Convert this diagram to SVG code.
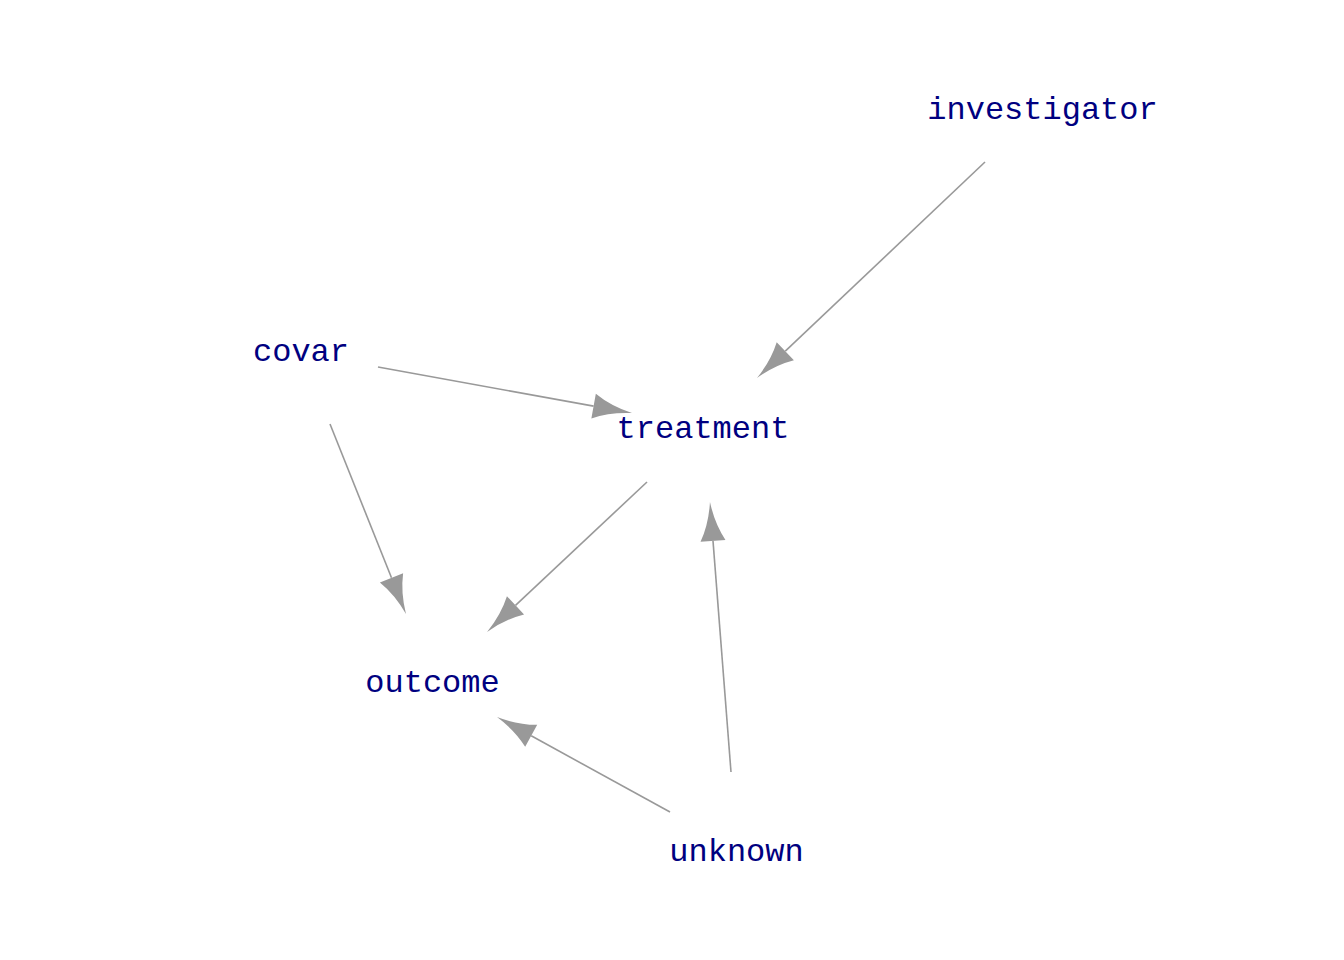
<svg xmlns="http://www.w3.org/2000/svg" width="1344" height="960" viewBox="0 0 1344 960">
<style>
.lbl{font-family:"Liberation Mono","Courier New",monospace;font-size:32px;fill:#000080;text-anchor:middle}
.edge{stroke:#999999;stroke-width:1.6;fill:none}
</style>
<defs>
<marker id="ah" markerUnits="userSpaceOnUse" orient="auto" refX="0" refY="0" markerWidth="40" markerHeight="26" overflow="visible">
<path d="M0,-12.5 Q17,-3 39,0 Q17,3 0,12.5 Z" fill="#999999"/>
</marker>
</defs>
<rect width="1344" height="960" fill="#ffffff"/>
<g id="edges">
<line class="edge" x1="985" y1="162" x2="785.3" y2="351.2" marker-end="url(#ah)"/>
<line class="edge" x1="378" y1="367" x2="593.6" y2="406.1" marker-end="url(#ah)"/>
<line class="edge" x1="330" y1="424" x2="391.5" y2="577.8" marker-end="url(#ah)"/>
<line class="edge" x1="647" y1="482" x2="515.5" y2="605.3" marker-end="url(#ah)"/>
<line class="edge" x1="670" y1="812" x2="531.2" y2="735.8" marker-end="url(#ah)"/>
<line class="edge" x1="731" y1="772" x2="713" y2="540.9" marker-end="url(#ah)"/>
</g>
<g id="investigator"><text class="lbl" x="1042.5" y="119">investigator</text></g>
<g id="covar"><text class="lbl" x="301" y="361">covar</text></g>
<g id="treatment"><text class="lbl" x="703" y="438">treatment</text></g>
<g id="outcome"><text class="lbl" x="432.5" y="692">outcome</text></g>
<g id="unknown"><text class="lbl" x="736.5" y="861">unknown</text></g>
</svg>
